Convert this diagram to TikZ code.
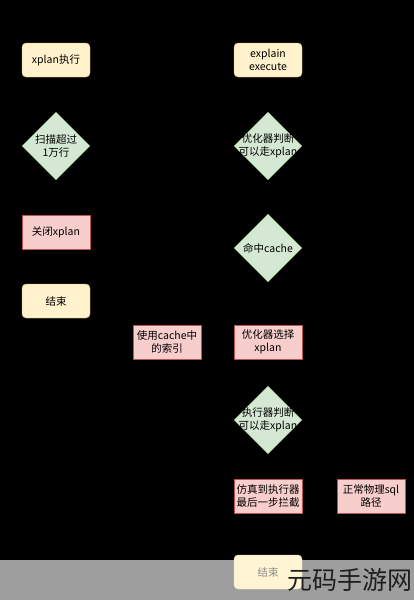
\documentclass[tikz,border=0pt]{standalone}
\usepackage{fontspec}
\setmainfont{Noto Sans CJK SC}
\usetikzlibrary{shapes.geometric}
\definecolor{ylw}{HTML}{FFF2CC}\definecolor{ylwd}{HTML}{D6B656}
\definecolor{pnk}{HTML}{F8CECC}\definecolor{pnkd}{HTML}{B85450}
\definecolor{grn}{HTML}{D5E8D4}\definecolor{grnd}{HTML}{82B366}
\definecolor{band}{HTML}{9E9E9E}
\begin{document}
\begin{tikzpicture}[x=1pt,y=-1pt,font=\fontsize{10.5}{12.5}\selectfont,line join=round,>=stealth,
  start/.style={draw=ylwd,fill=ylw,rounded corners=4pt,minimum width=68pt,minimum height=34pt,align=center,inner sep=1pt},
  act/.style={draw=pnkd,fill=pnk,minimum width=68pt,minimum height=34pt,align=center,inner sep=1pt},
  ask/.style={diamond,draw=grnd,fill=grn,minimum width=68pt,minimum height=68pt,inner sep=0pt,
    label={[align=center,inner sep=0pt]center:#1}},
  link/.style={->,black,shorten >=1.5pt,shorten <=1.5pt}]
\fill[black] (0,0) rectangle (414,600);
\useasboundingbox (0,0) rectangle (414,600);
% left column
\node[start] (run) at (56,60) {xplan执行};
\node[ask={扫描超过\\1万行}] (scan) at (56,146) {};
\node[act] (off) at (56,232) {关闭xplan};
\node[start] (endl) at (56,301) {结束};
% right column
\node[start] (expl) at (268,60) {explain\\execute};
\node[ask={优化器判断\\可以走xplan}] (opt) at (268,146) {};
\node[ask={命中cache}] (hit) at (268,248) {};
\node[act] (idx) at (167,342) {使用cache中\\的索引};
\node[act] (sel) at (268,342) {优化器选择\\xplan};
\node[ask={执行器判断\\可以走xplan}] (exe) at (268,420) {};
\node[act] (sim) at (268,496) {仿真到执行器\\最后一步拦截};
\node[act] (sql) at (371,496) {正常物理sql\\路径};
% connectors (black on black)
\draw[link] (run)--(scan);
\draw[link] (scan)--(off);
\draw[link] (off)--(endl);
\draw[link] (expl)--(opt);
\draw[link] (opt)--(hit);
\draw[link] (hit)--(sel);
\draw[link] (hit.west)-|(idx);
\draw[link] (sel)--(exe);
\draw[link] (exe)--(sim);
\draw[link] (exe.east)-|(sql);
% watermark band
\fill[band] (0,560) rectangle (414,600);
\node[start,draw=ylw!70!band,fill=ylw!85!white,text=black!45] (endr) at (268,572) {结束};
\node[text=black!88,font=\fontsize{25}{28}\selectfont,inner sep=0pt,anchor=east] (mark) at (413,580) {元码手游网};
\end{tikzpicture}
\end{document}
